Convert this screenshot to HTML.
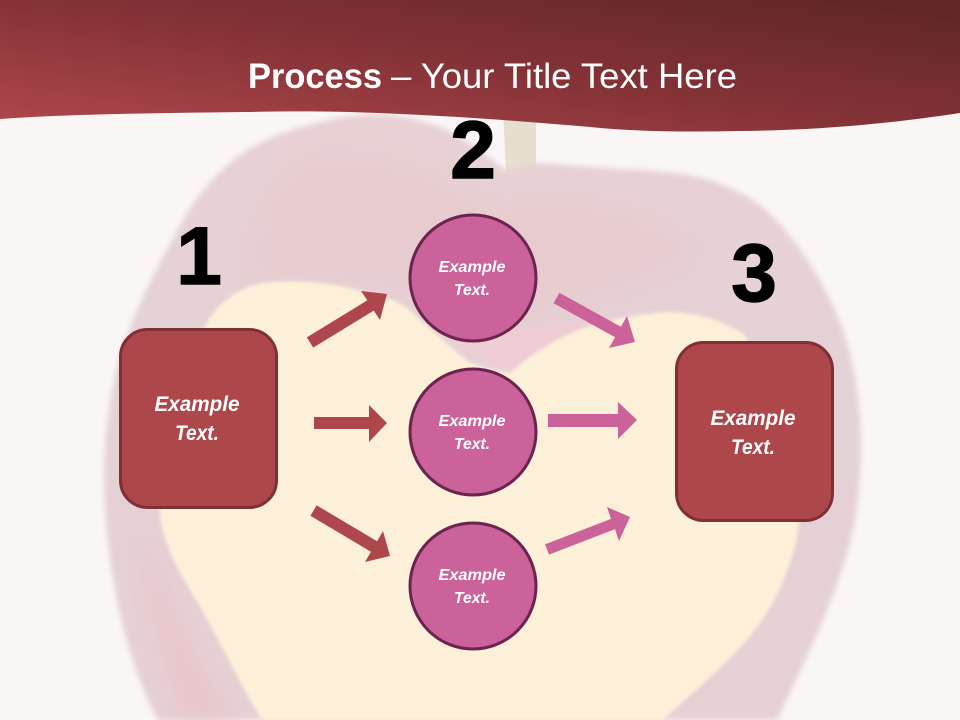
<!DOCTYPE html>
<html>
<head>
<meta charset="utf-8">
<style>
html,body{margin:0;padding:0;background:#faf6f6}
svg{display:block}
text{font-family:"Liberation Sans",sans-serif}
</style>
</head>
<body>
<svg width="960" height="720" viewBox="0 0 960 720" xmlns="http://www.w3.org/2000/svg">
<defs>
<linearGradient id="b" gradientUnits="userSpaceOnUse" x1="0" y1="120" x2="34" y2="-115">
<stop offset="0" stop-color="#ad464b"/><stop offset="0.5" stop-color="#853337"/><stop offset="1" stop-color="#62262a"/>
</linearGradient>
<linearGradient id="a" x1="0" y1="0" x2="0" y2="1">
<stop offset="0" stop-color="#e8d0d3"/><stop offset="0.45" stop-color="#e4d2d6"/><stop offset="1" stop-color="#e6d0d3"/>
</linearGradient>
<filter id="s"><feGaussianBlur stdDeviation="1.5"/></filter>
<filter id="s3"><feGaussianBlur stdDeviation="3"/></filter>
<filter id="s2"><feGaussianBlur stdDeviation="14"/></filter>
</defs>
<rect width="960" height="720" fill="#faf6f6"/>
<!-- stem -->
<path d="M503 110 L536 110 L536 170 L506 172 Z" fill="#e6dfcf"/>
<!-- apple -->
<path filter="url(#s3)" d="M505 170 C480 150 455 130 425 122 C395 113 360 112 330 120 C290 128 255 142 233 160 C205 185 190 205 175 235 C155 270 135 310 122 350 C107 400 102 450 105 510 C110 590 130 670 158 720 L777 720 C815 640 850 570 858 500 C866 430 858 360 835 310 C815 265 780 215 745 195 C715 178 680 172 640 170 C600 168 570 165 535 163 Z" fill="url(#a)"/>
<path filter="url(#s2)" d="M300 160 C360 140 430 170 500 205 C570 190 650 200 700 250 C660 290 570 300 490 340 C420 290 340 270 250 285 C250 230 260 190 300 160 Z" fill="#e8c9cd" opacity=".65"/>
<path filter="url(#s2)" d="M150 540 C170 610 200 670 235 720 L185 720 C160 660 145 600 140 540 Z" fill="#e8c5ca"/>
<!-- wedge -->
<path filter="url(#s)" d="M450 335 L595 322 C560 340 530 355 510 372 C490 365 465 350 450 335 Z" fill="#eecdd5"/>
<!-- heart -->
<path filter="url(#s)" d="M510 373 C530 355 560 335 590 326 C610 320 640 314 667 312 C690 312 720 318 745 335 C775 390 805 470 799 523 C795 560 780 590 767 613 C740 655 695 690 663 720 L262 720 C240 685 215 630 190 590 C175 565 165 545 160 517 C155 460 165 385 207 323 C220 300 240 288 262 283 C300 278 340 284 367 293 C390 298 400 303 410 310 C430 330 455 350 470 363 C485 368 500 372 510 373 Z" fill="#fcf0d9"/>
<!-- banner -->
<path d="M0 0 H960 V113 C900 122 830 130 740 131 C690 132 640 132 590 127 C530 122 470 117 400 114 C340 111 300 111 245 112 C160 113 70 114 0 119 Z" fill="url(#b)"/>
<text x="248" y="88" font-size="35" font-weight="700" fill="#fff" textLength="134" lengthAdjust="spacingAndGlyphs">Process</text>
<text x="391" y="88" font-size="35" fill="#fff" textLength="346" lengthAdjust="spacingAndGlyphs">– Your Title Text Here</text>
<!-- numbers -->
<g font-size="82" font-weight="700" fill="#000" stroke="#000" stroke-width="1.500" text-anchor="middle">
<text x="199" y="284">1</text>
<text x="473" y="178">2</text>
<text x="754" y="301">3</text>
</g>
<!-- boxes -->
<rect x="120.500" y="329.500" width="156" height="178" rx="27" fill="#ad474b" stroke="#7f3035" stroke-width="3"/>
<rect x="676.500" y="342.500" width="156" height="178" rx="27" fill="#ad474b" stroke="#7f3035" stroke-width="3"/>
<g font-size="21" font-weight="700" font-style="italic" fill="#fff" text-anchor="middle">
<text x="197" y="411" textLength="85" lengthAdjust="spacingAndGlyphs">Example</text>
<text x="197" y="440" textLength="44" lengthAdjust="spacingAndGlyphs">Text.</text>
<text x="753" y="425" textLength="85" lengthAdjust="spacingAndGlyphs">Example</text>
<text x="753" y="454" textLength="44" lengthAdjust="spacingAndGlyphs">Text.</text>
</g>
<!-- circles -->
<g fill="#cb6299" stroke="#6b2350" stroke-width="3">
<circle cx="473" cy="278" r="63"/>
<circle cx="473" cy="432" r="63"/>
<circle cx="473" cy="586" r="63"/>
</g>
<g font-size="16" font-weight="700" font-style="italic" fill="#fff" text-anchor="middle">
<text x="472" y="272" textLength="67" lengthAdjust="spacingAndGlyphs">Example</text>
<text x="472" y="295" textLength="36" lengthAdjust="spacingAndGlyphs">Text.</text>
<text x="472" y="426" textLength="67" lengthAdjust="spacingAndGlyphs">Example</text>
<text x="472" y="449" textLength="36" lengthAdjust="spacingAndGlyphs">Text.</text>
<text x="472" y="580" textLength="67" lengthAdjust="spacingAndGlyphs">Example</text>
<text x="472" y="603" textLength="36" lengthAdjust="spacingAndGlyphs">Text.</text>
</g>
<!-- arrows -->
<g fill="#ad474b">
<polygon points="306.800,337.400 367.300,300.400 361,291 387,294 380,320 373.700,310.600 313.200,347.600"/>
<polygon points="314,417 369,417 369,405 387,423 369,442 369,429 314,429"/>
<polygon points="316.600,505.300 377.100,541.300 383,531 390,556 365,562 370.900,551.700 310.400,515.700"/>
</g>
<g fill="#cb6299">
<polygon points="559.400,292.800 620.900,326.800 627,316 635,342 609,348 615.100,337.200 553.600,303.200"/>
<polygon points="548,414 618,414 618,402 637,420 618,439 618,427 548,427"/>
<polygon points="545,544.400 611,518.900 607,507 630,517 619,541 615,529.100 549,554.600"/>
</g>
</svg>
</body>
</html>
